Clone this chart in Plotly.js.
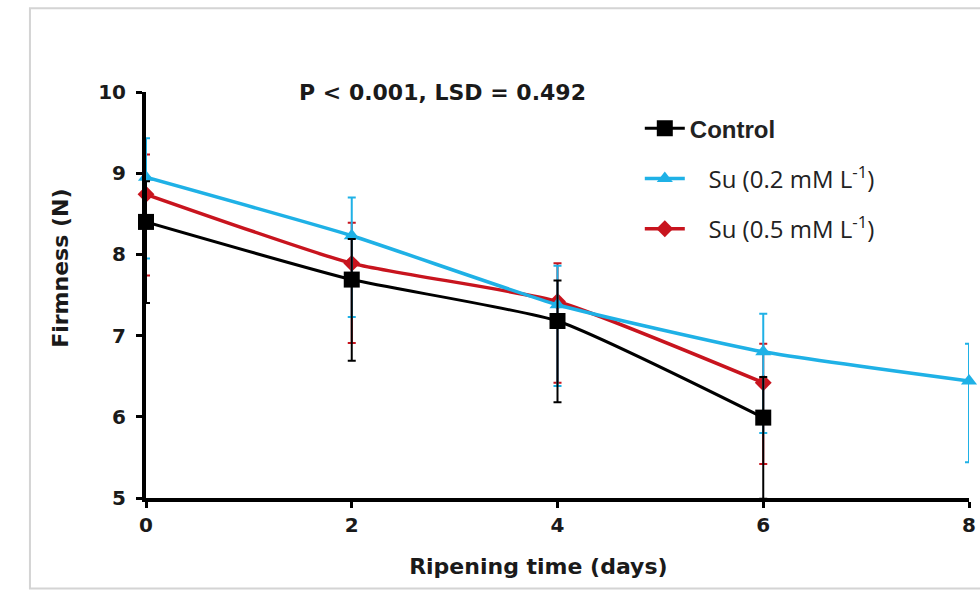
<!DOCTYPE html>
<html>
<head>
<meta charset="utf-8">
<script src="https://cdn.plot.ly/plotly-3.0.1.min.js"></script>
<style>html,body{margin:0;padding:0;background:#fff;}#chart{width:980px;height:610px;}</style>
</head>
<body>
<div id="chart"></div>
<script>
// Data
const seriesNames = ["Control", "Su (0.2 mM L<sup>-1</sup>)", "Su (0.5 mM L<sup>-1</sup>)"];
const controlDays = [0, 2, 4, 6];
const controlFirmness = [8.40, 7.69, 7.18, 5.99];
const controlErrPlus = [0.50, 0.50, 0.50, 0.50];
const controlErrMinus = [1.00, 1.00, 1.00, 1.00];
const su02Days = [0, 2, 4, 6, 8];
const su02Firmness = [8.95, 8.23, 7.38, 6.80, 6.44];
const su02ErrPlus = [0.48, 0.47, 0.48, 0.47, 0.46];
const su02ErrMinus = [1.00, 1.00, 1.00, 1.00, 1.00];
const su05Days = [0, 2, 4, 6];
const su05Firmness = [8.74, 7.89, 7.42, 6.42];
const su05ErrPlus = [0.49, 0.50, 0.47, 0.48];
const su05ErrMinus = [1.00, 0.98, 1.00, 1.00];
const xTicks = [0, 2, 4, 6, 8];
const yTicks = [5, 6, 7, 8, 9, 10];
const annotationText = "P < 0.001, LSD = 0.492";
const xTitle = "Ripening time (days)";
const yTitle = "Firmness (N)";

const colors = {control: "#000000", su02: "#1fb1e6", su05: "#c8141e"};
const boldFont = "DejaVu Sans, Liberation Sans, Arial, sans-serif";
const pad = n => "\u00a0".repeat(n);

function errBar(plus, minus, color) {
  return {type: "data", symmetric: false, array: plus, arrayminus: minus,
          color: color, thickness: 2, width: 4, visible: true};
}

const traces = [
  {
    x: su05Days, y: su05Firmness, type: "scatter", mode: "lines+markers",
    name: pad(3) + seriesNames[2], legendgroup: "c",
    line: {color: colors.su05, width: 3.5, shape: "spline", smoothing: 0.5},
    marker: {symbol: "diamond", size: 13, color: colors.su05},
    error_y: errBar(su05ErrPlus, su05ErrMinus, colors.su05),
    legendrank: 3, cliponaxis: false
  },
  {
    x: su02Days, y: su02Firmness, type: "scatter", mode: "lines+markers",
    name: pad(3) + seriesNames[1], legendgroup: "b",
    line: {color: colors.su02, width: 3.5, shape: "spline", smoothing: 0.5},
    marker: {symbol: "triangle-up", size: 14, color: colors.su02},
    error_y: errBar(su02ErrPlus, su02ErrMinus, colors.su02),
    legendrank: 2, cliponaxis: false
  },
  {
    x: controlDays, y: controlFirmness, type: "scatter", mode: "lines+markers",
    name: '<span style="font-family:Liberation Sans, Arial, sans-serif;font-weight:bold">' + seriesNames[0] + '</span>',
    legendgroup: "a",
    line: {color: colors.control, width: 3, shape: "spline", smoothing: 0.5},
    marker: {symbol: "square", size: 16, color: colors.control},
    error_y: errBar(controlErrPlus, controlErrMinus, colors.control),
    legendrank: 1, cliponaxis: false
  }
];

const layout = {
  width: 980, height: 610,
  paper_bgcolor: "#ffffff", plot_bgcolor: "#ffffff",
  margin: {l: 146, r: 11, t: 92, b: 112},
  font: {family: boldFont, color: "#1a1a1a", size: 18},
  xaxis: {
    range: [0, 8], tickvals: xTicks, ticktext: xTicks.map(String),
    showgrid: false, zeroline: false, showline: true, linecolor: "#000", linewidth: 4,
    ticks: "outside", ticklen: 6, tickwidth: 3, tickcolor: "#000",
    tickfont: {family: boldFont, size: 20, weight: "bold"},
    title: {text: "<b>" + xTitle + pad(5) + "</b>", font: {family: boldFont, size: 22}, standoff: 24}
  },
  yaxis: {
    range: [5, 10], tickvals: yTicks, ticktext: yTicks.map(String),
    showgrid: false, zeroline: false, showline: true, linecolor: "#000", linewidth: 4,
    ticks: "outside", ticklen: 6, tickwidth: 3, tickcolor: "#000",
    ticklabelstandoff: 6,
    tickfont: {family: boldFont, size: 20, weight: "bold"},
    title: {text: "<b>" + pad(7) + yTitle + "</b>", font: {family: boldFont, size: 22}, standoff: 24}
  },
  legend: {
    x: 0.6, y: 0.965, xanchor: "left", yanchor: "top",
    bgcolor: "rgba(0,0,0,0)", borderwidth: 0,
    font: {family: "Open Sans, Liberation Sans, sans-serif", size: 24, color: "#222"},
    traceorder: "grouped", tracegroupgap: 16, itemwidth: 40
  },
  annotations: [{
    xref: "paper", yref: "paper", x: 0.36, y: 1.0, xanchor: "center", yanchor: "middle",
    text: "<b>" + annotationText + "</b>", showarrow: false,
    font: {family: boldFont, size: 22, color: "#1a1a1a"}
  }],
  shapes: [{
    type: "rect", xref: "paper", yref: "paper", x0: -0.141, x1: 1.2, y0: -0.223, y1: 1.206,
    line: {color: "#d4d4d4", width: 2}, fillcolor: "rgba(0,0,0,0)", layer: "below"
  }],
  showlegend: true
};

Plotly.newPlot("chart", traces, layout, {staticPlot: true, displayModeBar: false});
</script>
</body>
</html>
